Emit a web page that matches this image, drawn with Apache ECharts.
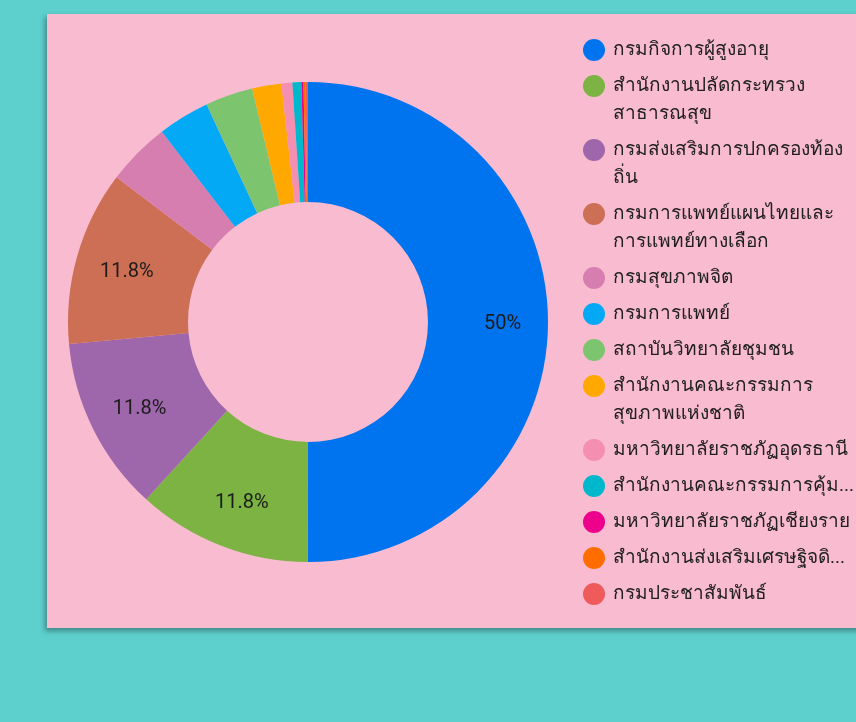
<!DOCTYPE html>
<html>
<head>
<meta charset="utf-8">
<script src="https://cdn.jsdelivr.net/npm/echarts@6/dist/echarts.min.js"></script>
<style>
html,body{margin:0;padding:0;width:856px;height:722px;background:#5dcfcd;overflow:hidden;}
#card{position:absolute;left:47px;top:14px;width:830px;height:614px;background:#f8bbd0;box-shadow:-2px 3px 5px rgba(0,0,0,0.35);}
#chart{position:absolute;left:0;top:0;width:856px;height:722px;}
</style>
</head>
<body>
<div id="card"></div>
<div id="chart"></div>
<script>
// Categories (agencies)
const categories = [
  'กรมกิจการผู้สูงอายุ',
  'สำนักงานปลัดกระทรวงสาธารณสุข',
  'กรมส่งเสริมการปกครองท้องถิ่น',
  'กรมการแพทย์แผนไทยและการแพทย์ทางเลือก',
  'กรมสุขภาพจิต',
  'กรมการแพทย์',
  'สถาบันวิทยาลัยชุมชน',
  'สำนักงานคณะกรรมการสุขภาพแห่งชาติ',
  'มหาวิทยาลัยราชภัฏอุดรธานี',
  'สำนักงานคณะกรรมการคุ้มครองผู้บริโภค',
  'มหาวิทยาลัยราชภัฏเชียงราย',
  'สำนักงานส่งเสริมเศรษฐกิจดิจิทัล',
  'กรมประชาสัมพันธ์'
];
// Legend text as displayed (wrapped / truncated)
const legendLabels = [
  'กรมกิจการผู้สูงอายุ',
  'สำนักงานปลัดกระทรวง\nสาธารณสุข',
  'กรมส่งเสริมการปกครองท้อง\nถิ่น',
  'กรมการแพทย์แผนไทยและ\nการแพทย์ทางเลือก',
  'กรมสุขภาพจิต',
  'กรมการแพทย์',
  'สถาบันวิทยาลัยชุมชน',
  'สำนักงานคณะกรรมการ\nสุขภาพแห่งชาติ',
  'มหาวิทยาลัยราชภัฏอุดรธานี',
  'สำนักงานคณะกรรมการคุ้ม...',
  'มหาวิทยาลัยราชภัฏเชียงราย',
  'สำนักงานส่งเสริมเศรษฐิจดิ...',
  'กรมประชาสัมพันธ์'
];
// Share values (percent)
const values = [50, 11.76, 11.76, 11.76, 4.28, 3.48, 3.2, 1.97, 0.73, 0.6, 0.14, 0.15, 0.15];
const colors = ['#0073ef', '#7cb342', '#9e67ab', '#cc6f55', '#d77eb0', '#03a9f4', '#7dc46f', '#ffa900', '#f48fb1', '#00b8cc', '#ec008c', '#ff6d00', '#ef5b5b'];

const chart = echarts.init(document.getElementById('chart'), null, {renderer: 'canvas'});

function fmtPct(p) {
  let s = (Math.round(p * 10) / 10).toFixed(1);
  if (s.endsWith('.0')) s = s.slice(0, -2);
  return s + '%';
}

const pieData = categories.map((n, i) => ({name: n, value: values[i], itemStyle: {color: colors[i]}}));
const labelData = categories.map((n, i) => ({name: n, value: values[i]}));

// Legend: one vertical stack, each entry placed below the previous (line height 28, gap 8)
const LINE_H = 28, GAP = 8, LEG_LEFT = 583, LEG_TOP = 39;
const legends = [];
let yCursor = LEG_TOP;
categories.forEach((n, i) => {
  const lines = legendLabels[i].split('\n');
  legends.push({
    orient: 'vertical',
    left: LEG_LEFT,
    top: yCursor,
    padding: 0,
    itemWidth: 22,
    itemHeight: 22,
    icon: 'circle',
    textStyle: {
      fontFamily: 'Roboto',
      fontSize: 19,
      color: '#202020',
      padding: lines.length > 1 ? [14, 0, -14, 3] : [0, 0, 0, 3],
      rich: {t: {fontFamily: 'Roboto', fontSize: 19, color: '#202020', lineHeight: LINE_H}}
    },
    formatter: function (name) {
      const lbl = legendLabels[categories.indexOf(name)];
      return lbl.split('\n').map(s => '{t|' + s + '}').join('\n');
    },
    data: [n]
  });
  yCursor += lines.length * LINE_H + GAP;
});

const option = {
  backgroundColor: 'transparent',
  animation: false,
  legend: legends,
  series: [
    {
      name: 'main',
      type: 'pie',
      center: [308, 322],
      radius: [120, 240],
      startAngle: 90,
      clockwise: true,
      avoidLabelOverlap: false,
      label: {show: false},
      labelLine: {show: false},
      itemStyle: {borderWidth: 0},
      emphasis: {scale: false},
      data: pieData
    },
    {
      name: 'labels',
      type: 'pie',
      center: [311, 324],
      radius: [137, 240],
      startAngle: 90,
      clockwise: true,
      silent: true,
      avoidLabelOverlap: false,
      itemStyle: {color: 'rgba(0,0,0,0)', borderWidth: 0},
      label: {
        show: true,
        position: 'inside',
        fontFamily: 'Roboto',
        fontSize: 20,
        color: '#1c1c1c',
        formatter: function (p) { return p.percent >= 5 ? fmtPct(p.percent) : ''; }
      },
      labelLine: {show: false},
      data: labelData
    }
  ]
};
chart.setOption(option);
</script>
</body>
</html>
